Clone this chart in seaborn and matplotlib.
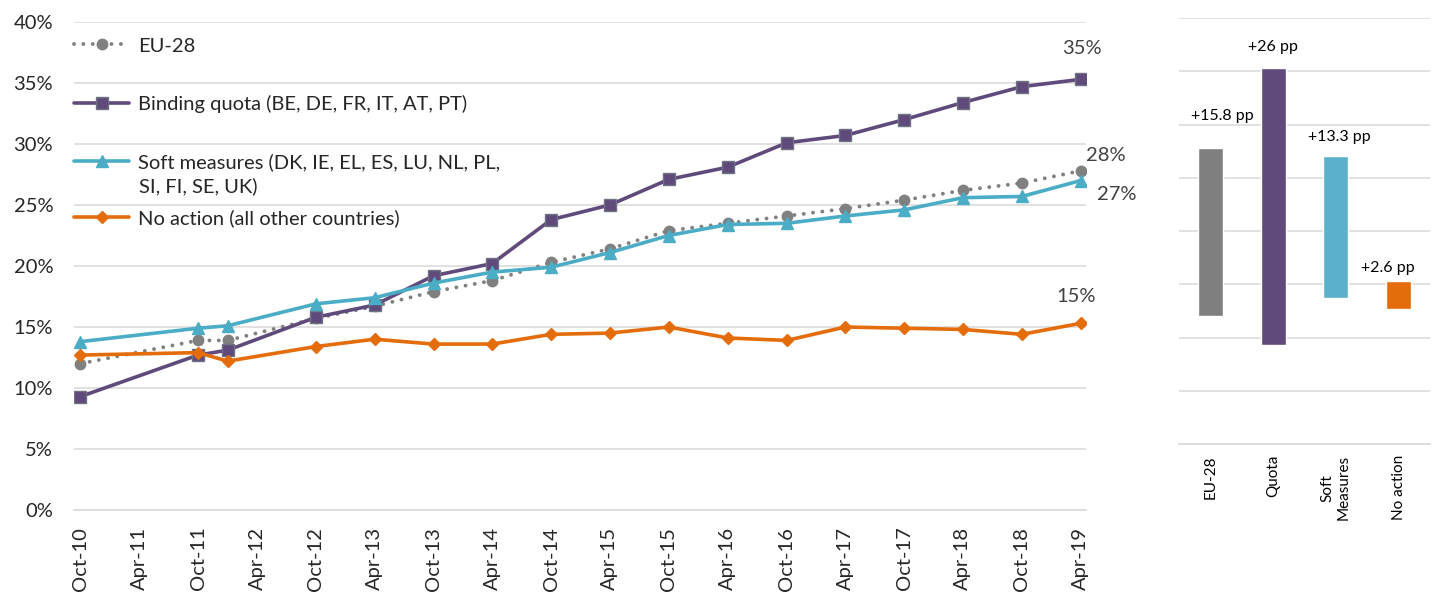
import numpy as np
import pandas as pd
import matplotlib
matplotlib.use("Agg")
import matplotlib.pyplot as plt
import matplotlib.dates as mdates
from matplotlib.ticker import FuncFormatter, MultipleLocator
import seaborn as sns

# ---------------- data ----------------
period_dates = ["2010-10-01", "2011-10-01", "2012-01-01", "2012-10-01", "2013-04-01",
                "2013-10-01", "2014-04-01", "2014-10-01", "2015-04-01", "2015-10-01",
                "2016-04-01", "2016-10-01", "2017-04-01", "2017-10-01", "2018-04-01",
                "2018-10-01", "2019-04-01"]
eu28 = [12.0, 13.9, 13.9, 15.7, 16.7, 17.9, 18.8, 20.3, 21.4, 22.9, 23.5, 24.1,
        24.7, 25.4, 26.2, 26.8, 27.8]
quota = [9.3, 12.7, 13.1, 15.8, 16.8, 19.2, 20.2, 23.8, 25.0, 27.1, 28.1, 30.1,
         30.7, 32.0, 33.4, 34.7, 35.3]
soft = [13.8, 14.9, 15.1, 16.9, 17.4, 18.6, 19.5, 19.9, 21.1, 22.5, 23.4, 23.5,
        24.1, 24.6, 25.6, 25.7, 27.0]
no_action = [12.7, 12.9, 12.2, 13.4, 14.0, 13.6, 13.6, 14.4, 14.5, 15.0, 14.1, 13.9,
             15.0, 14.9, 14.8, 14.4, 15.3]

series_labels = ["EU-28",
                 "Binding quota (BE, DE, FR, IT, AT, PT)",
                 "Soft measures (DK, IE, EL, ES, LU, NL, PL,\nSI, FI, SE, UK)",
                 "No action (all other countries)"]

bar_categories = ["EU-28", "Quota", "Soft\nMeasures", "No action"]
bar_start = [12.0, 9.3, 13.7, 12.7]
bar_change = [15.8, 26.0, 13.3, 2.6]
bar_labels = ["+15.8 pp", "+26 pp", "+13.3 pp", "+2.6 pp"]

tick_start = "2010-10-01"
tick_end = "2019-04-01"

# ---------------- style ----------------
sns.set_theme(style="white")
plt.rcParams["font.family"] = ["Lato", "DejaVu Sans"]

C_EU = "#808080"
C_QUOTA = "#604A7B"
C_SOFT = "#4BACC6"
C_NO = "#E46C0A"
GRID = "#D9D9D9"
TXT = "#404040"
TICK = "#262626"
FS = 14.5

W, H = 1437, 598
fig = plt.figure(figsize=(W / 100, H / 100), dpi=100)
ax = fig.add_axes([74 / W, 1 - 510 / H, (1086 - 74) / W, (510 - 22) / H])
axb = fig.add_axes([1179 / W, 1 - 444 / H, (1430 - 1179) / W, (444 - 18) / H])

dates = pd.to_datetime(period_dates)
df = pd.DataFrame({"date": dates, "eu": eu28, "quota": quota, "soft": soft, "no": no_action})

specs = [
    ("eu", C_EU, "o", 7.5, C_EU),
    ("quota", C_QUOTA, "s", 8.5, "#6E7383"),
    ("soft", C_SOFT, "^", 9.0, C_SOFT),
    ("no", C_NO, "D", 6.5, C_NO),
]
handles = []
for (col, color, marker, ms, mec), lab in zip(specs, series_labels):
    sns.lineplot(x="date", y=col, data=df, ax=ax, color=color, marker=marker,
                 markersize=ms, markeredgecolor=mec, markeredgewidth=1.0,
                 linewidth=2.6, label=lab, legend=False)
    line = ax.lines[-1]
    if col == "eu":
        line.set_linestyle((0, (0.01, 2.4)))
        line.set_dash_capstyle("round")
        line.set_linewidth(2.8)
    handles.append(line)

ax.set_ylim(0, 40)
ax.yaxis.set_major_locator(MultipleLocator(5))
ax.yaxis.set_major_formatter(FuncFormatter(lambda v, p: f"{v:.0f}%"))
ticks = pd.date_range(tick_start, tick_end, freq="6MS")
ax.set_xticks(ticks)
ax.xaxis.set_major_formatter(mdates.DateFormatter("%b-%y"))
ax.set_xlim(pd.Timestamp(tick_start) - pd.Timedelta(days=20),
            pd.Timestamp(tick_end) + pd.Timedelta(days=17))
ax.tick_params(axis="x", rotation=90, labelsize=FS, colors=TICK, length=0, pad=12)
ax.tick_params(axis="y", labelsize=FS, colors=TICK, length=0, pad=15)
ax.grid(axis="y", color=GRID, linewidth=1.1)
ax.set_axisbelow(True)
for s in ["top", "right", "left"]:
    ax.spines[s].set_visible(False)
ax.spines["bottom"].set_color(GRID)
ax.spines["bottom"].set_linewidth(1.1)
ax.set_xlabel("")
ax.set_ylabel("")

# legend: one block per entry so the spacing follows the reference
legend_rows_px = [46, 104, 162, 218]
for h, lab, ypx in zip(handles, series_labels, legend_rows_px):
    first, *rest = lab.split("\n")
    lg = ax.legend(handles=[h], labels=[first], loc="center left",
                   bbox_to_anchor=(0.0, (510 - ypx) / 488), frameon=False,
                   fontsize=FS, handlelength=2.75, handletextpad=0.45,
                   numpoints=1, borderaxespad=0.0, borderpad=0.0)
    lg.get_texts()[0].set_color(TICK)
    ax.add_artist(lg)
    for k, extra in enumerate(rest):
        ax.text((139 - 74) / 1012, (510 - ypx - 24 * (k + 1)) / 488, extra,
                transform=ax.transAxes, ha="left", va="center",
                fontsize=FS, color=TICK)
ax.legend_ = None

# end labels
last_date = dates[-1]
end_offsets = {"quota": (1, 22), "eu": (18, 11), "soft": (26, -10), "no": (-3, 19)}
for col, (dx, dy) in end_offsets.items():
    v = df[col].iloc[-1]
    ax.annotate(f"{v:.0f}%", xy=(last_date, v), xytext=(dx, dy),
                textcoords="offset points", ha="center", va="center",
                fontsize=FS, color=TXT)

# ---------------- bar panel ----------------
bdf = pd.DataFrame({"cat": bar_categories, "change": bar_change, "start": bar_start})
sns.barplot(data=bdf, x="cat", y="change", hue="cat",
            palette=["#7F7F7F", C_QUOTA, "#5BB1C9", C_NO], width=0.4,
            legend=False, ax=axb, saturation=1)
label_offsets_px = [(12, 32), (0, 21), (4, 19), (-11, 13)]
for patch, st, lab, (dx, dy) in zip(axb.patches, bar_start, bar_labels, label_offsets_px):
    patch.set_y(st)
    top = st + patch.get_height()
    axb.annotate(lab, xy=(patch.get_x() + patch.get_width() / 2, top),
                 xytext=(dx * 0.72, dy * 0.72), textcoords="offset points",
                 ha="center", va="center", fontsize=11.5, color="#000000")
axb.set_ylim(0, 40)
axb.yaxis.set_major_locator(MultipleLocator(5))
axb.set_yticklabels([])
axb.tick_params(axis="y", length=0)
axb.tick_params(axis="x", rotation=90, labelsize=11, colors="#000000", length=0, pad=8)
axb.grid(axis="y", color=GRID, linewidth=1.1)
axb.set_axisbelow(True)
for s in ["top", "right", "left"]:
    axb.spines[s].set_visible(False)
axb.spines["bottom"].set_color(GRID)
axb.set_xlabel("")
axb.set_ylabel("")
axb.set_xlim(-0.5, 3.5)

fig.savefig("out.png", dpi=100, facecolor="white")
